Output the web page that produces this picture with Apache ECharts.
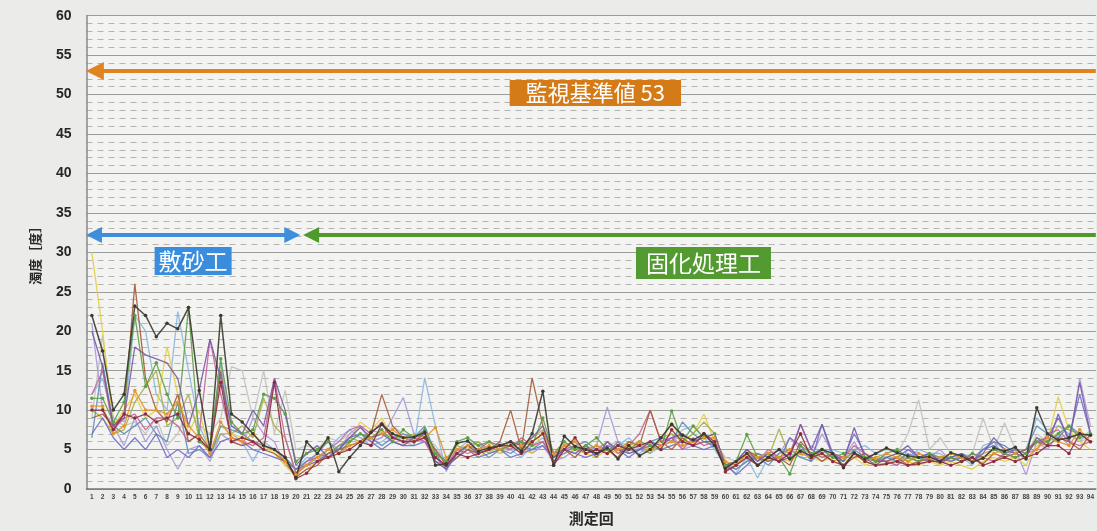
<!DOCTYPE html>
<html><head><meta charset="utf-8">
<script src="https://cdn.jsdelivr.net/npm/echarts@6/dist/echarts.min.js"></script>
<style>html,body{margin:0;padding:0;background:#ebebea;overflow:hidden}#c{width:1097px;height:531px}</style>
</head><body><div id="c"></div>
<script>
// measurement numbers (測定回)
const categories = Array.from({length: 94}, (_, i) => String(i + 1));

const sDark = [22,17.5,10,12,23.2,22,19.3,21,20.3,23,
 12.5,5,22,9.5,8.5,7,5.5,5,4,1.5,
 6,4.5,6.5,2.2,4,5.5,7.2,8.2,7,6.5,
 6.6,7.2,3,3.2,5.8,6.1,4.8,5.2,5.5,6,
 4.8,7,12.4,3,6.7,5.4,5,4.5,5.2,3.8,
 5.5,4.2,5,6.5,8.2,6.8,6.2,7,5.5,2.6,
 3.5,4.5,3,4,5,3.8,4.8,4.2,5,4.5,
 2.7,4.6,3.8,4.5,5.2,4.6,4.2,4,4.1,3.5,
 4.6,4.2,3.4,3.9,5.2,4.8,5.3,3.8,10.3,7,
 6.2,6.5,7,6.8];
const sPurple = [20,15.5,8,9,18,17,16.5,16,14,8,
 12.5,19,14,8,7,10,8,14,10,3,
 4.5,5.5,4,5,6.5,7.8,6.5,7,6,5.5,
 6.5,7,3.5,2.5,4.5,5.5,4.5,5,5.5,6,
 5.5,6.5,8,4,5,4.5,5.5,4,6,5,
 4.5,5,6,5.5,6.5,7,6,6.5,7,3,
 3.5,5,3.5,4.5,3.5,4,8.2,5,8.2,4.5,
 3.5,7.8,4,3,4,4.5,5.5,4,4.5,3.5,
 4,4.5,3.5,4.5,6.5,5,4.5,4,6.5,5.5,
 9.5,6,13.5,7];
const sLavender = [21,10,8,5.5,9,6,8,5,2.5,5,
 5.5,3.5,7,6,5.5,9,7,6,3,2,
 3,4.5,6,5,7,8,6,6.5,9,11.6,
 7,6,5,3.5,4,5.5,6,5,4.5,5,
 6,4.5,5.5,3.5,4,5,4.5,5.5,10.4,6,
 5,4.5,5.5,6,7,5,5.5,6,5.5,3.5,
 2.5,3.5,4.5,3.5,4.5,6.5,5,4,7,4.5,
 4,6,3.5,4,3.5,3,5,4.5,4,5,
 3.5,4.5,4,5,6,4,5,1.8,6,5,
 7,5.5,14,8];
const sLightBlue = [12,14,9,8.5,22,20,12,10,22.5,15,
 8,5,16,7,6,3.5,6,5,4,2.5,
 4,3.5,5,6.5,7.5,6.5,5.5,6,7,6,
 5.5,14.1,8,2.2,5,6,5.5,4.5,6,5,
 4,5.5,6.5,4,5.5,6,4.5,5,4.5,5.5,
 6.5,5,4.5,5.5,6,7.5,8,6.5,5,3,
 2,4,1.4,4,5,4.5,4,5.5,4.5,5,
 4.5,5,5.5,4.5,4,3.5,4,5,4.5,4.5,
 3.5,4,3,5.5,6,5,4.5,5,9,7.5,
 8,7,6,7.5];
const sYellow = [30,20,8,10,12,9,10,18,12,7,
 10,4.5,8,7,6.5,6,5.5,4.5,3,1.5,
 2.5,3.5,4,5,6,8.5,7.5,9,6.5,6,
 6,7.5,4,3,4.5,5.5,4,5,4.5,5.5,
 5,4.5,7.5,3.5,4.5,5,4.5,4,5,4.5,
 5,5.5,5,6,8.5,6,7,9.5,6,2.5,
 3,4,4.5,3.5,4,3.5,4.5,4,3.5,4,
 3.5,4,3,3.5,3,4,3.5,3,3.5,3,
 3.5,3,2.5,3.5,4,3.5,4,3,5.5,6,
 11.7,7.5,6,5];
const sOrange = [10.5,10.5,7,8,12.5,10,10,9.5,11,8,
 6.5,4.5,8.5,6.5,6,7,5.5,5,3.5,1.8,
 3,4,5,4.5,5.5,6,6.5,7,7.5,6.5,
 6,6.5,7.8,4,5,5.5,5,5.5,5,6,
 5.5,6,7,4.5,5.5,6,5,5.5,4.5,5,
 5.5,6,5,5.5,6,5.5,6,6.5,6.5,3.5,
 3,4.5,4,4.5,4,5,4.5,4,4.5,3.5,
 4,4.5,3.5,4,4.5,4,3.5,4.5,4,4,
 4.5,4,3.5,4,4.5,5,4.5,4,5,6.5,
 6,5.5,7.5,6];
const sBrown = [9,9.5,8,9.5,26,14,10,8.5,12,6,
 7,5,15,6,5.5,6,5,4.5,3.5,1.5,
 2.5,3,4.5,5,5.5,6,7,12,8,6.5,
 6,7,5,3,4,5,4.5,5,6,10,
 5,14.1,8,4.5,5,4,5.5,4.5,5,4,
 6,5.5,10,6,5,6.5,5.5,6,6,2.8,
 3.5,5,4,3.5,4,3,6,4.5,3.5,4.5,
 3,4,4.5,3.5,3.5,4,3,3.5,3.8,3.2,
 4,3.5,4,3.2,4.5,4,4.5,5,6,5.5,
 6.5,6,5,7];
const sGreen = [11.5,11.5,8.5,11,22,13,16,12,9,23,
 6,5,16.5,8.5,7,7.5,12,11.5,9.5,3.5,
 4.5,5,6,4.5,6,7,6.5,7.5,6,7.5,
 6.5,7.5,4.5,3.5,6,6.5,5.5,6,5,5.5,
 6,5.5,9,4.5,6,5,5.5,6.5,5,5.5,
 5,6,5.5,5,9.9,6,8,6.5,7,3,
 3.5,6.9,4,4.5,4,1.9,5.5,4.5,5,4,
 4.5,4.5,4,3.5,4.5,5,4,3.5,4.5,4,
 4,3.5,4.5,4,5,4.5,4,4.5,6,6,
 7,8,6.5,7];
const sPink = [12,15,7.5,9,9.5,7.5,9,9,8,6,
 7,19,12,6.5,6,5.5,6.5,14,6.5,2,
 3.5,4,5,6,7.5,8,7,8.5,6.5,6,
 6.5,6,3.5,3,5,4.5,5,6,5.5,5,
 6.5,5.5,6,3.5,5,5.5,4.5,5,6,4.5,
 5.5,7,10,6,6.5,5,6.5,5.5,6,2.4,
 3,4.5,3.5,5,4,4.5,8.2,5,4,4.5,
 4,5.5,4.5,3.8,3.5,3,4,3.5,4,3.5,
 4,3.5,4.5,4,3.5,4.5,4,4.5,5,7,
 7.5,6,5.5,6];
const sDarkRed = [10,10,7.5,9.5,9,9.5,8.5,9,9.5,7,
 6.3,5,13.5,6,6.5,6,5,13.5,4,1.3,
 2,3.5,4,4.5,5,6,5.5,8.2,6.5,6,
 6,6.5,4,3,4.5,4,4.5,5,5.5,5.5,
 4.5,6,7,3,5,6.5,4.5,5,4.5,5.5,
 5,5.5,6,5,7.5,6,5.5,7,6,2.2,
 3,4,3,4,3.5,4.5,7,4,4.5,3.5,
 3,4.5,3.5,3,3.2,3.5,3,3.2,3.5,3.5,
 3,3.5,4,3,3.5,4,3.5,4,4.5,5.5,
 5.5,4.5,7,6];
const sLightGray = [9,19.5,9,8,8.5,7,9,5.5,7,10,
 8,7,9,15.5,15,9,15,7,12.5,5,
 5.5,5,6.5,6,7,6.5,6,6.5,8,7,
 6,6.5,5.5,3.5,5,5.5,6,5,5.5,5,
 5,5.5,6,4,6,5,5.5,5,5.5,6,
 5.5,5,6,5.5,6,7,6,6.5,6,4,
 3.5,4,3,4.5,5,4,4.5,4,4.5,4,
 4,4.5,4,4.5,5,4.5,7,11.3,5,6.5,
 4.5,4,4.5,9,5,8.4,5,4,7,6,
 6.5,7,6,6.5];
const sTeal = [6.5,16,8,7,8,9,7,6,11,4.5,
 5,4,8,7.5,7,6,5.5,5,4,2.5,
 3.5,4.5,4,5.5,6,7,6.5,5.5,6.5,7,
 6.5,8,4.5,2.5,4.5,5.5,5,4,5,4.5,
 5.5,5,6,4,4.5,5.5,6,5,4.5,6,
 4.5,5,6,6.5,6,8.5,7,6,5.5,3,
 2.5,3.5,4,3,4.5,5,4,3.5,5,4,
 3.5,5,4,3.5,4,3.5,4.5,4,3.5,4,
 4,4.5,3.5,5,6,5.5,4.5,5,8,7,
 6.5,8,7,6];
const sOlive = [10,9,7,7.5,11,13,15,8,9,12,
 6.5,4.5,7,7,8,6.5,11.5,8,6.5,2,
 3,4,4.5,5.5,6.5,6,7.5,7,6.5,6.5,
 7,6.5,4.5,3.5,5.5,5,6,4.5,5,5.5,
 5,6.5,7.5,4,5.5,5,5,5.5,5,5,
 6,5.5,4.5,6.5,7,6,7,8.5,7,3,
 3.5,4.5,4.5,4,7.6,4,5,4.5,4,4.5,
 4,4,4.5,3.5,4,4.5,3.5,4,4.5,3.5,
 4.5,4,3.5,4.5,5,4.5,5,4.5,6.5,6,
 8,7.5,7,6];
const sViolet = [7,9,6.5,5,6.5,5,7,4,5,4,
 5.5,4,6,6.5,6,5,4.5,4,3.5,2.5,
 3,3.5,4.5,5,6.5,7,6,5,6,5.5,
 5.5,6,4,2.8,4,5,4,4.5,5,4,
 4.5,5,5.5,4,5,4.5,4,4.5,5.5,5,
 4,5,5.5,5,5.5,6,5.5,5,5.5,3.2,
 1.8,3,4.5,4,3.5,6.5,5.5,3.5,8.2,4,
 4,7,4.5,3.5,3.5,4,5,4,4.5,3.8,
 3.5,4,3.5,5,5.5,4.5,5,4.5,6,6.5,
 9,6.5,12,7];

const seriesDefs = [
  {name:'L11', data:sLightGray, color:'#c2c2bd', dot:false},
  {name:'L4', data:sLightBlue, color:'#8db7e0', dot:false},
  {name:'L3', data:sLavender, color:'#a898d8', dot:false},
  {name:'L5', data:sYellow, color:'#e6cf42', dot:false},
  {name:'L13', data:sOlive, color:'#a9b043', dot:false},
  {name:'L12', data:sTeal, color:'#5b90b2', dot:false},
  {name:'L14', data:sViolet, color:'#6e6fc6', dot:false},
  {name:'L9', data:sPink, color:'#c66399', dot:false},
  {name:'L7', data:sBrown, color:'#a65a3c', dot:false},
  {name:'L8', data:sGreen, color:'#5f9e48', dot:true},
  {name:'L6', data:sOrange, color:'#e3952f', dot:true},
  {name:'L2', data:sPurple, color:'#7a5aa6', dot:false},
  {name:'L10', data:sDarkRed, color:'#8c2b3e', dot:true},
  {name:'L1', data:sDark, color:'#3a3a30', dot:true}
];

const chart = echarts.init(document.getElementById('c'), null, {renderer:'canvas'});
const lineSeries = seriesDefs.map(d => ({
  type:'line', name:d.name, data:d.data, xAxisIndex:0, yAxisIndex:0,
  symbol: d.dot ? 'circle' : 'none', symbolSize: 3.5, showSymbol: d.dot,
  lineStyle:{width: d.name==='L1' ? 1.5 : 1.3, color:d.color, opacity:0.9},
  itemStyle:{color:d.color}, silent:true, animation:false
}));

const lblFont = '"Noto Sans CJK JP", sans-serif';
lineSeries.push({
  type:'line', data:[], xAxisIndex:1, yAxisIndex:0, silent:true, animation:false,
  markLine:{
    silent:true, animation:false, precision:2,
    data:[
      [{coord:[1.28,53], symbol:'triangle', symbolSize:18,
        lineStyle:{color:'#e08420', width:4, type:'solid'},
        label:{show:true, position:'insideMiddleBottom', distance:9, formatter:'監視基準値 53',
          color:'#fff', backgroundColor:'#d47a17', padding:[1,16], fontSize:22, lineHeight:24, fontFamily:lblFont}},
       {coord:[94.5,53], symbol:'none'}],
      [{coord:[1.19,32.2], symbol:'triangle', symbolSize:16,
        lineStyle:{color:'#3d8fdc', width:4, type:'solid'},
        label:{show:true, position:'insideMiddleBottom', distance:12, formatter:'敷砂工',
          color:'#fff', backgroundColor:'#3a8ddd', padding:[1,4], fontSize:23, lineHeight:26, fontFamily:lblFont}},
       {coord:[19.67,32.2], symbol:'triangle', symbolSize:16}],
      [{coord:[21.42,32.2], symbol:'triangle', symbolSize:16,
        lineStyle:{color:'#4f9a2a', width:4, type:'solid'},
        label:{show:true, position:'insideMiddleBottom', distance:12, formatter:'固化処理工',
          color:'#fff', backgroundColor:'#539a30', padding:[3,10], fontSize:23, lineHeight:26, fontFamily:lblFont}},
       {coord:[94.5,32.2], symbol:'none'}]
    ]
  }
});

chart.setOption({
  backgroundColor:'#ebebea',
  animation:false,
  grid:{left:86.5, top:15.7, bottom:41.7, right:-11.75, show:true, backgroundColor:'#f3f3f1', borderWidth:0},
  xAxis:[{
    type:'category', data:categories, boundaryGap:true,
    name:'測定回', nameLocation:'middle', nameGap:22,
    nameTextStyle:{fontSize:15, fontWeight:'bold', color:'#2a2a2a', fontFamily:lblFont},
    axisLine:{show:true, lineStyle:{color:'#777', width:1.5}},
    axisTick:{show:false},
    axisLabel:{interval:0, fontSize:6.5, fontWeight:'bold', color:'#444', margin:5, fontFamily:'Liberation Sans, Arial, sans-serif'},
    splitLine:{show:false}
  },{
    type:'value', min:0.5, max:94.5, show:false
  }],
  yAxis:{
    type:'value', min:0, max:60, interval:5,
    name:'濁度［度］', nameLocation:'middle', nameRotate:90, nameGap:45,
    nameTextStyle:{fontSize:13, fontWeight:'bold', color:'#2a2a2a', fontFamily:lblFont},
    axisLine:{show:true, lineStyle:{color:'#888', width:1.5}},
    axisTick:{show:false},
    axisLabel:{fontSize:14, fontWeight:'bold', color:'#262626', margin:15, fontFamily:'Liberation Sans, Arial, sans-serif'},
    splitLine:{show:true, lineStyle:{color:'#9c9c9c', width:1}},
    minorTick:{show:false, splitNumber:5},
    minorSplitLine:{show:true, lineStyle:{color:'#a8a8a8', width:1, type:[6,5], opacity:0.85}}
  },
  series: lineSeries
});
</script></body></html>
